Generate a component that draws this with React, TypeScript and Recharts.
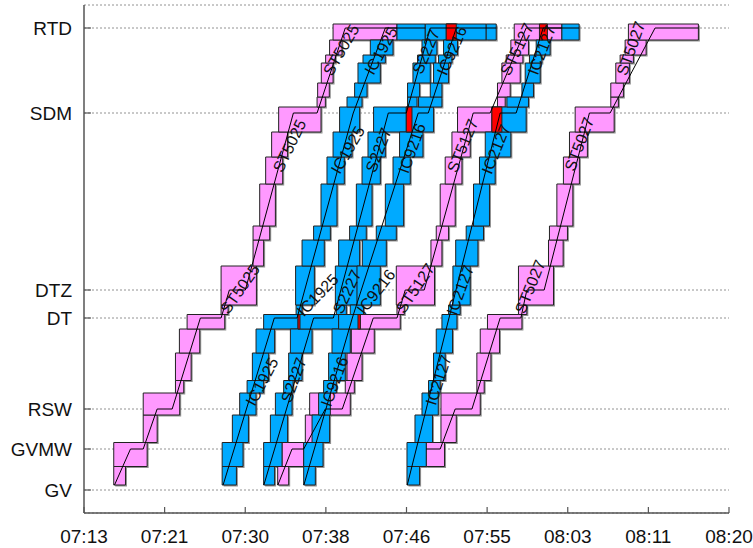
import { CartesianGrid, ComposedChart, Line, ReferenceArea, Scatter, XAxis, YAxis } from "recharts";

// stations (km from start of line)
const stations = ["GV", "GVMW", "RSW", "DT", "DTZ", "SDM", "RTD"];
const stationKm = [2.3, 6.4, 10.4, 19.5, 22.3, 40.0, 48.5];

// time axis in minutes after 07:00
const timeTicks = [13, 21.375, 29.75, 38.125, 46.5, 54.875, 63.25, 71.625, 80];
const timeLabels = ["07:13", "07:21", "07:30", "07:38", "07:46", "07:55", "08:03", "08:11", "08:20"];

// block section boundaries (km), section i = [i, i+1]
const sectionKm = [
  2.8, 4.65, 7.05, 9.8, 12.0, 13.25, 16.0, 18.4, 19.85, 20.8, 24.7, 27.3, 28.7, 32.9, 35.6, 38.1, 40.6, 41.6,
  43.0, 45.0, 45.8, 47.3, 48.9
];

// blocking times: [section, from, to]
const st5025Blocks = [
  [0, 16.09, 17.31], [1, 16.09, 19.56], [2, 19.15, 20.6], [3, 19.15, 22.94], [4, 22.5, 23.36], [5, 22.5, 24.13],
  [6, 22.91, 25.02], [7, 23.71, 27.62], [8, 27.24, 27.97], [9, 27.24, 30.91], [10, 30.56, 31.66], [11, 30.56, 32.29],
  [12, 31.25, 32.88], [13, 31.87, 33.64], [14, 32.49, 34.15], [15, 33.22, 37.62], [16, 37.21, 38.07],
  [17, 37.27, 38.48], [18, 37.65, 38.87], [19, 38.1, 39.11], [20, 38.51, 39.8], [21, 38.87, 45.51]
];
const st5127Blocks = [
  [0, 33.12, 34.26], [1, 33.57, 35.82], [2, 35.99, 37.13], [3, 36.44, 40.66], [4, 40.14, 41.08], [5, 40.32, 41.88],
  [6, 40.77, 43.15], [7, 41.63, 45.85], [8, 45.51, 46.27], [9, 45.44, 49.41], [10, 49.04, 50.18], [11, 49.59, 50.87],
  [12, 50.0, 51.56], [13, 50.52, 52.26], [14, 51.22, 53.12], [15, 51.8, 56.41], [16, 55.95, 56.75],
  [17, 55.95, 57.27], [18, 56.41, 58.31], [19, 56.86, 58.59], [20, 57.34, 59.17], [21, 57.69, 62.64]
];
const st5027Blocks = [
  [1, 48.55, 50.45], [2, 50.08, 51.67], [3, 50.08, 54.16], [4, 53.81, 54.57], [5, 53.81, 55.27], [6, 54.16, 56.16],
  [7, 54.91, 58.49], [8, 58.13, 59.0], [9, 58.13, 61.77], [10, 61.25, 62.77], [11, 61.35, 63.22], [12, 62.12, 63.78],
  [13, 62.8, 64.46], [14, 63.43, 65.29], [15, 64.02, 68.07], [16, 67.72, 68.51], [17, 67.72, 69.03],
  [18, 68.24, 69.65], [19, 68.69, 70.07], [20, 69.21, 71.39], [21, 69.55, 76.82]
];
const ic1925Blocks = [
  [0, 27.35, 28.83], [1, 27.35, 29.52], [2, 28.41, 30.08], [3, 29.17, 30.87], [4, 29.94, 31.66], [5, 30.49, 32.18],
  [6, 30.87, 32.8], [7, 31.66, 35.44], [8, 35.03, 35.65], [9, 34.98, 36.93], [10, 35.65, 37.96], [11, 36.85, 38.59],
  [12, 37.62, 39.28], [13, 38.24, 40.04], [14, 38.87, 40.84], [15, 39.55, 41.63], [16, 40.32, 41.88],
  [17, 41.11, 42.4], [18, 41.46, 43.78], [19, 41.98, 44.3], [20, 42.74, 45.1], [21, 45.51, 48.45]
];
const s2227Blocks = [
  [0, 31.66, 32.8], [1, 31.66, 33.57], [2, 32.36, 34.15], [3, 32.88, 34.61], [4, 33.74, 34.72], [5, 34.26, 35.65],
  [6, 34.44, 36.69], [7, 35.23, 39.45], [8, 39.21, 40.25], [9, 39.11, 41.39], [10, 39.45, 41.63], [11, 40.59, 42.32],
  [12, 41.29, 42.92], [13, 41.88, 43.78], [14, 42.5, 44.3], [15, 43.08, 47.07], [16, 46.61, 47.59],
  [17, 46.61, 47.86], [18, 47.17, 48.97], [19, 47.65, 49.49], [20, 48.11, 49.66], [21, 48.45, 51.8]
];
const ic9216Blocks = [
  [0, 35.82, 37.03], [1, 35.82, 37.83], [2, 36.69, 38.51], [3, 37.37, 38.59], [4, 37.89, 39.21], [5, 38.41, 40.14],
  [6, 38.76, 40.66], [7, 39.45, 41.7], [8, 40.66, 42.04], [9, 41.36, 43.78], [10, 41.91, 44.4], [11, 43.36, 45.44],
  [12, 44.3, 46.2], [13, 45.1, 46.89], [14, 45.78, 48.21], [15, 46.48, 49.31], [16, 47.75, 50.18],
  [17, 48.97, 50.18], [18, 49.31, 50.87], [19, 49.83, 51.22], [20, 50.35, 51.8], [21, 50.63, 54.78],
  [21, 54.78, 55.82]
];
const ic2127Blocks = [
  [0, 46.55, 47.86], [1, 46.55, 48.55], [2, 47.38, 49.2], [3, 48.11, 49.8], [4, 48.79, 50.0], [5, 49.31, 50.52],
  [6, 49.59, 51.28], [7, 50.18, 51.74], [8, 50.87, 52.08], [9, 51.32, 53.12], [10, 51.61, 53.92], [11, 52.7, 54.5],
  [12, 53.46, 55.12], [13, 54.08, 55.71], [14, 54.68, 57.34], [15, 55.37, 58.93], [16, 56.93, 59.17],
  [17, 58.49, 59.69], [18, 58.83, 60.39], [19, 59.27, 60.56], [20, 59.97, 61.42], [21, 62.64, 64.43]
];

// overlapping block occupations
const conflicts = [
  [7, 35.23, 35.44], [7, 41.46, 41.7], [15, 46.48, 47.07], [15, 55.37, 56.41], [21, 50.63, 51.67], [21, 60.31, 61.14]
];

// train paths: [time, km]
const st5025Path = [
  [16.17, 2.8], [17.83, 6.4], [19.15, 6.4], [20.6, 10.4], [22.16, 10.4], [25.09, 19.5], [27.24, 19.5], [28.1, 22.3],
  [29.76, 22.3], [34.75, 40.0], [37.21, 40.0], [40.14, 48.5], [45.51, 48.5]
];
const st5127Path = [
  [33.14, 2.8], [34.61, 6.4], [35.82, 6.4], [38.07, 10.4], [39.83, 10.4], [43.05, 19.5], [45.51, 19.5], [46.37, 22.3],
  [48.34, 22.3], [53.43, 40.0], [55.19, 40.0], [58.93, 48.5], [62.64, 48.5]
];
const st5027Path = [
  [48.55, 6.4], [50.0, 6.4], [51.56, 10.4], [53.3, 10.4], [56.23, 19.5], [58.38, 19.5], [59.0, 22.3], [60.8, 22.3],
  [65.5, 40.0], [67.65, 40.0], [72.32, 48.5], [76.82, 48.5]
];
const ic1925Path = [[27.45, 2.8], [32.77, 19.5], [35.13, 19.5], [40.97, 40.0], [44.3, 48.5], [48.45, 48.5]];
const s2227Path = [[31.68, 2.8], [36.85, 19.5], [38.9, 19.5], [44.61, 40.0], [46.48, 40.0], [48.97, 48.5], [51.8, 48.5]];
const ic9216Path = [[35.84, 2.8], [40.87, 19.5], [47.72, 40.0], [48.76, 40.0], [51.67, 48.5], [55.82, 48.5]];
const ic2127Path = [[46.58, 2.8], [56.23, 40.0], [57.89, 40.0], [60.7, 48.5], [64.43, 48.5]];

// train number labels along the paths
const trainLabels = [
  ["ST5025", 29.21, 22.4], ["ST5025", 34.35, 36.72], ["ST5025", 39.71, 46.3],
  ["IC1925", 31.5, 13.13], ["IC1925", 37.29, 21.8], ["IC1925", 40.4, 36.3], ["IC1925", 43.86, 46.22],
  ["S2227", 34.78, 13.3], ["S2227", 40.32, 22.13], ["S2227", 43.6, 36.3], ["S2227", 48.53, 46.13],
  ["IC9216", 39.02, 13.13], ["IC9216", 43.34, 22.13], ["IC9216", 47.07, 36.47], ["IC9216", 51.22, 46.22],
  ["ST5127", 47.41, 22.47], ["ST5127", 52.34, 36.72], ["ST5127", 57.97, 46.38],
  ["IC2127", 49.83, 13.3], ["IC2127", 52.08, 22.3], ["IC2127", 55.8, 36.38], ["IC2127", 60.56, 46.3],
  ["ST5027", 59.35, 22.63], ["ST5027", 64.45, 36.88], ["ST5027", 69.81, 46.47]
];
const labelAngles = [
  -55, -64, -60, -62, -46, -60, -61, -70, -65, -69, -67, -70, -52, -70, -66, -56, -67, -64, -72, -70, -68, -69, -68,
  -69, -70
];

const PINK = "#ff99ff";
const BLUE = "#00aaff";
const RED = "#ff0000";

const pinkTrains = [st5025Blocks, st5127Blocks, st5027Blocks];
const blueTrains = [ic1925Blocks, s2227Blocks, ic9216Blocks, ic2127Blocks];
const paths = [st5025Path, ic1925Path, s2227Path, ic9216Path, st5127Path, ic2127Path, st5027Path].map(p =>
  p.map(([t, d]) => ({ t, d }))
);
const labelData = trainLabels.map(([name, t, d], i) => ({ name, t, d, angle: labelAngles[i] }));

function StationTick(props: any) {
  const { x, y, payload } = props;
  const i = stationKm.indexOf(payload.value);
  return (
    <g>
      <line x1={x + 12} x2={x + 19} y1={y} y2={y} stroke="#555" strokeWidth={1.2} />
      <text x={x} y={y} dy="0.36em" textAnchor="end" fontSize={19} fill="#111">
        {stations[i]}
      </text>
    </g>
  );
}

function TimeTick(props: any) {
  const { x, y, payload } = props;
  const i = timeTicks.indexOf(payload.value);
  return (
    <g>
      <line x1={x} x2={x} y1={y - 17} y2={y - 23} stroke="#555" strokeWidth={1.2} />
      <text x={x} y={y} dy="0.71em" textAnchor="middle" fontSize={19} fill="#111">
        {timeLabels[i]}
      </text>
    </g>
  );
}

function TrainLabel(props: any) {
  const { cx, cy, payload } = props;
  return (
    <text
      x={cx}
      y={cy}
      textAnchor="middle"
      dominantBaseline="central"
      fontSize={16}
      fill="#111"
      transform={`rotate(${payload.angle} ${cx} ${cy})`}
    >
      {payload.name}
    </text>
  );
}

// soft grey drop shadow under each block
function ShadowRect(props: any) {
  const { x, y, width, height } = props;
  return <rect x={x + 1.5} y={y + 1.5} width={width} height={height} fill="#777" fillOpacity={0.8} />;
}

function blockAreas(list: number[][][], color: string, prefix: string, shadow = false) {
  return list.flatMap((blocks, j) =>
    blocks.map(([s, a, b], k) => (
      <ReferenceArea
        key={`${prefix}-${j}-${k}`}
        x1={a}
        x2={b}
        y1={sectionKm[s]}
        y2={sectionKm[s + 1]}
        fill={color}
        fillOpacity={1}
        stroke="#222"
        strokeWidth={1}
        ifOverflow="visible"
        shape={shadow ? <ShadowRect /> : undefined}
      />
    ))
  );
}

export default function App() {
  return (
    <div style={{ position: "absolute", left: 0, top: 0, fontFamily: "'Liberation Sans', Arial, sans-serif" }}>
      <ComposedChart width={753} height={548} margin={{ top: 5, right: 24, bottom: 0, left: 0 }}>
        <CartesianGrid vertical={false} stroke="#777" strokeDasharray="2 2" strokeWidth={0.8} />
        <XAxis
          type="number"
          dataKey="t"
          domain={[13, 80]}
          ticks={timeTicks}
          interval={0}
          height={35}
          tickSize={0}
          tickMargin={17}
          tick={<TimeTick />}
          axisLine={{ stroke: "#555", strokeWidth: 1.5 }}
        />
        <YAxis
          type="number"
          dataKey="d"
          domain={[0, 50.8]}
          ticks={stationKm}
          interval={0}
          width={84}
          tickSize={0}
          tickMargin={12}
          tick={<StationTick />}
          axisLine={{ stroke: "#555", strokeWidth: 1.5 }}
        />
        {blockAreas([...pinkTrains, ...blueTrains], "#777", "s", true)}
        {blockAreas(pinkTrains, PINK, "p")}
        {blockAreas(blueTrains, BLUE, "b")}
        {blockAreas([conflicts], RED, "r")}
        {paths.map((p, i) => (
          <Line
            key={i}
            data={p}
            dataKey="d"
            type="linear"
            stroke="#000"
            strokeWidth={1}
            dot={false}
            activeDot={false}
            isAnimationActive={false}
          />
        ))}
        <Scatter data={labelData} dataKey="d" shape={<TrainLabel />} isAnimationActive={false} />
      </ComposedChart>
    </div>
  );
}
